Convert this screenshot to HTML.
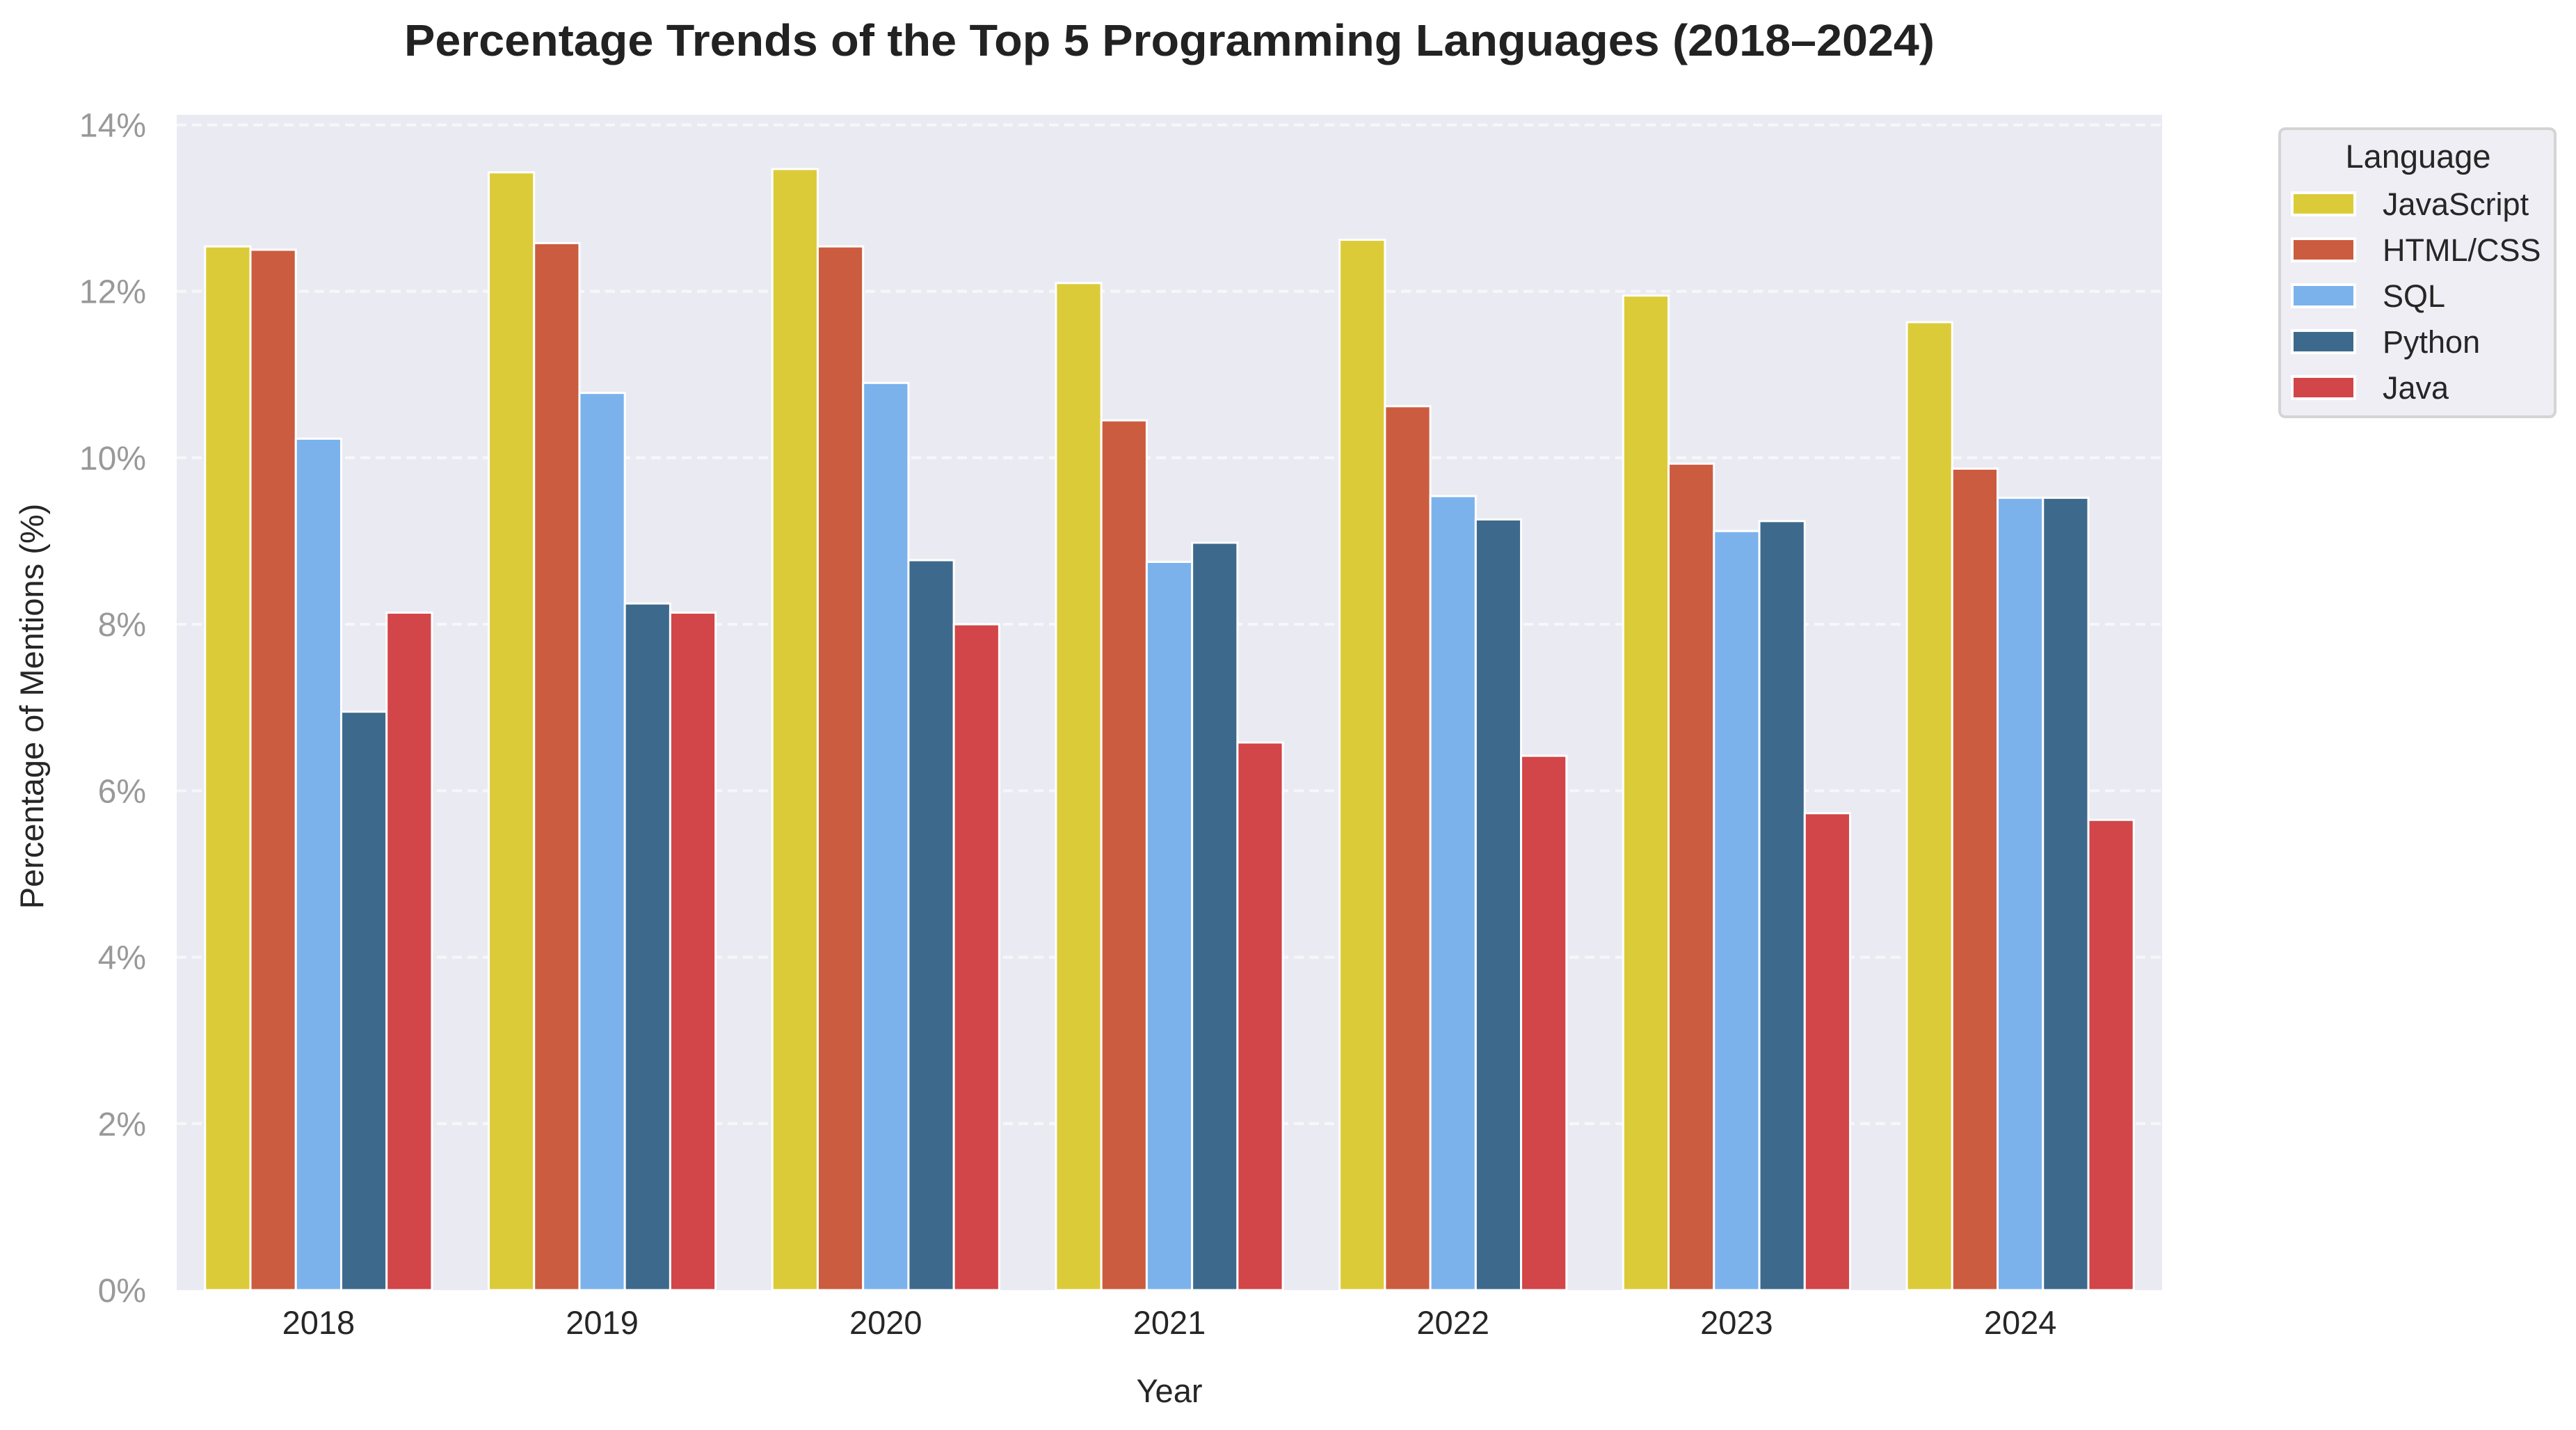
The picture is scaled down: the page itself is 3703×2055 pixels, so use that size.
<!DOCTYPE html>
<html><head><meta charset="utf-8"><style>
html,body{margin:0;padding:0;background:#fff;}
svg{display:block;font-family:"Liberation Sans",Arial,sans-serif;}
</style></head><body>
<svg id="chart" width="3703" height="2055" viewBox="0 0 3703 2055" xmlns="http://www.w3.org/2000/svg">
<rect x="0" y="0" width="3703" height="2055" fill="#fff"/>
<text x="1681" y="80" text-anchor="middle" font-size="64" font-weight="bold" fill="#222" textLength="2200" lengthAdjust="spacingAndGlyphs">Percentage Trends of the Top 5 Programming Languages (2018–2024)</text>
<rect x="254" y="165" width="2854" height="1689" fill="#eaeaf2"/>
<g id="grid"></g>
<g id="yticks"></g>
<g id="bars"></g>
<g id="xticks"></g>
<text x="1681" y="2015" text-anchor="middle" font-size="47" fill="#262626">Year</text>
<text transform="translate(62,1015) rotate(-90)" text-anchor="middle" font-size="47" fill="#262626">Percentage of Mentions (%)</text>
<g>
<rect x="3277" y="185" width="396" height="414" rx="8" fill="#eeeef4" stroke="#d4d4d4" stroke-width="4"/>
<text x="3476" y="241" text-anchor="middle" font-size="47" fill="#262626">Language</text>
<g id="legend-items"></g>
</g>
</svg>
<script>
const years = ["2018","2019","2020","2021","2022","2023","2024"];
const languages = ["JavaScript","HTML/CSS","SQL","Python","Java"];
const javascriptVals = [12.54,13.43,13.47,12.10,12.62,11.95,11.63];
const htmlCssVals = [12.50,12.58,12.54,10.45,10.62,9.93,9.87];
const sqlVals = [10.23,10.78,10.90,8.75,9.54,9.12,9.52];
const pythonVals = [6.95,8.25,8.77,8.98,9.26,9.24,9.52];
const javaVals = [8.14,8.14,8.00,6.58,6.42,5.73,5.65];
const yTicks = [0,2,4,6,8,10,12,14];
const colors = ["#dccb39","#cc5c3f","#7bb2ec","#3d6a8c","#d24548"];
const series = [javascriptVals, htmlCssVals, sqlVals, pythonVals, javaVals];

const NS = "http://www.w3.org/2000/svg";
const plotL = 254, plotR = 3108, y0 = 1854, y14 = 179.5;
const yScale = v => y0 - (v / 14) * (y0 - y14);
const band = (plotR - plotL) / years.length;
const xCenter = i => plotL + band * (i + 0.5);
const barW = band * 0.8 / languages.length;

function mk(tag, attrs, parent, text) {
  const e = document.createElementNS(NS, tag);
  for (const k in attrs) e.setAttribute(k, attrs[k]);
  if (text !== undefined) e.textContent = text;
  parent.appendChild(e);
  return e;
}
const grid = document.getElementById('grid');
const yt = document.getElementById('yticks');
yTicks.forEach(t => {
  const y = yScale(t);
  if (t > 0) {
    const l = mk('line', {x1: plotL, x2: plotR, y1: y, y2: y, stroke: '#f7f7fa', 'stroke-width': 4, 'stroke-dasharray': '14,8'}, grid);
    
    
  }
  const tx = mk('text', {x: 210, y: y + 17, 'text-anchor': 'end', 'font-size': 48, fill: '#999'}, yt, t + '%');
  
  
});
const bars = document.getElementById('bars');
series.forEach((vals, s) => {
  vals.forEach((v, i) => {
    const x = xCenter(i) - band * 0.4 + s * barW;
    const r = mk('rect', {x: x, y: yScale(v), width: barW, height: y0 - yScale(v), fill: colors[s], stroke: '#fff', 'stroke-width': 3}, bars);
    
    
  });
});
const xt = document.getElementById('xticks');
years.forEach((yr, i) => {
  const t = mk('text', {x: xCenter(i), y: 1917, 'text-anchor': 'middle', 'font-size': 47, fill: '#262626'}, xt, yr);
  
  
});
const li = document.getElementById('legend-items');
languages.forEach((lang, s) => {
  const cy = 293 + s * 66;
  const g = mk('g', {}, li);
  
  
  const p = mk('rect', {x: 3295, y: cy - 16, width: 90, height: 32, fill: colors[s], stroke: '#fff', 'stroke-width': 4}, g);
  
  
  const t = mk('text', {x: 3425, y: cy + 16, 'font-size': 45, fill: '#262626'}, g, lang);
  
  
});
</script>
</body></html>
